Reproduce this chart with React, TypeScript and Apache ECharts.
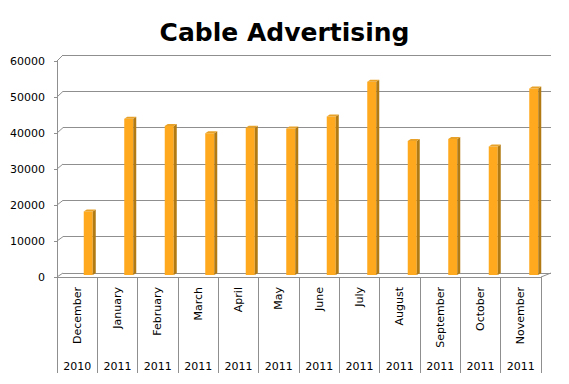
import React, { useEffect, useRef } from "react";
import * as echarts from "echarts";

const months = ["December", "January", "February", "March", "April", "May", "June", "July", "August", "September", "October", "November"];
const years = ["2010", "2011", "2011", "2011", "2011", "2011", "2011", "2011", "2011", "2011", "2011", "2011"];
const values = [17500, 43000, 41000, 39000, 40500, 40300, 43600, 53200, 36900, 37400, 35400, 51300];
const yTicks = [0, 10000, 20000, 30000, 40000, 50000, 60000];

const GRID_COLOR = "#8f8f8f";

export default function App() {
  const ref = useRef<HTMLDivElement>(null);
  useEffect(() => {
    const chart = echarts.init(ref.current!, null, { renderer: "svg" });
    const font = "DejaVu Sans";
    chart.setOption({
      animation: false,
      backgroundColor: "#ffffff",
      title: {
        text: "Cable Advertising",
        left: "center",
        top: 15,
        textStyle: { fontFamily: font, fontSize: 25, fontWeight: "bold", color: "#000" },
      },
      grid: [
        { left: 63, right: 18, top: 55, bottom: 111 },
        { left: 68, right: 15, top: 57, bottom: 109 },
        { left: 57, right: 28, top: 61, bottom: 107 },
      ],
      xAxis: [
        { gridIndex: 0, type: "category", data: months, show: false },
        { gridIndex: 1, type: "category", data: months, show: false },
        {
          gridIndex: 2,
          type: "category",
          data: months,
          axisLine: { show: true, lineStyle: { color: GRID_COLOR, width: 1 } },
          axisTick: { show: true, length: 96, interval: 0, lineStyle: { color: GRID_COLOR, width: 1 } },
          axisLabel: { interval: 0, rotate: 90, margin: 10, fontFamily: font, fontSize: 11, color: "#000" },
        },
        {
          gridIndex: 2,
          type: "category",
          position: "bottom",
          data: years,
          axisLine: { show: false },
          axisTick: { show: false },
          axisLabel: { interval: 0, margin: 84, fontFamily: font, fontSize: 11, color: "#000" },
        },
      ],
      yAxis: [
        {
          gridIndex: 0,
          type: "value",
          min: 0,
          max: 60000,
          interval: 10000,
          axisLine: { show: false },
          axisTick: { show: false },
          axisLabel: { show: false },
          splitLine: { show: true, lineStyle: { color: GRID_COLOR, width: 1 } },
        },
        { gridIndex: 1, type: "value", min: 0, max: 60000, interval: 10000, show: false, splitLine: { show: false } },
        {
          gridIndex: 2,
          type: "value",
          min: 0,
          max: 60000,
          interval: 10000,
          axisLine: { show: true, lineStyle: { color: GRID_COLOR, width: 1 } },
          axisTick: { show: true, length: 3, lineStyle: { color: GRID_COLOR } },
          axisLabel: {
            margin: 12,
            fontFamily: font,
            fontSize: 11,
            color: "#000",
            formatter: (v: number) => String(v),
          },
          splitLine: { show: false },
        },
      ],
      series: [
        {
          type: "custom",
          xAxisIndex: 1,
          yAxisIndex: 1,
          data: values.map((v, i) => [i, v]),
          encode: { x: 0, y: 1 },
          renderItem: (params: any, api: any) => {
            const top = api.coord([api.value(0), api.value(1)]);
            const base = api.coord([api.value(0), 0]);
            const w = 9;
            const d = 3;
            const dy = 2;
            const x0 = top[0] - w / 2;
            const x1 = top[0] + w / 2;
            return {
              type: "group",
              children: [
                {
                  type: "rect",
                  shape: { x: x0, y: top[1], width: w, height: base[1] - top[1] },
                  style: { fill: "#FFAA1E" },
                },
                {
                  type: "polygon",
                  shape: { points: [[x1, top[1]], [x1 + d, top[1] - dy], [x1 + d, base[1] - dy], [x1, base[1]]] },
                  style: { fill: "#B27A12" },
                },
                {
                  type: "polygon",
                  shape: { points: [[x0, top[1]], [x0 + d, top[1] - dy], [x1 + d, top[1] - dy], [x1, top[1]]] },
                  style: { fill: "#E8A22A" },
                },
              ],
            };
          },
        },
      ],
    });

    const lines: any[] = [];
    yTicks.forEach((v) => {
      const yf = chart.convertToPixel({ yAxisIndex: 2 } as any, v) as number;
      const yb = chart.convertToPixel({ yAxisIndex: 0 } as any, v) as number;
      lines.push({
        type: "line",
        shape: { x1: 57, y1: yf, x2: 63, y2: yb },
        style: { stroke: GRID_COLOR, lineWidth: 1 },
        silent: true,
      });
    });
    const yf0 = chart.convertToPixel({ yAxisIndex: 2 } as any, 0) as number;
    const yb0 = chart.convertToPixel({ yAxisIndex: 0 } as any, 0) as number;
    lines.push({
      type: "line",
      shape: { x1: 541, y1: yf0, x2: 551, y2: yb0 },
      style: { stroke: GRID_COLOR, lineWidth: 1 },
      silent: true,
    });
    chart.setOption({ graphic: lines });

    return () => chart.dispose();
  }, []);
  return <div ref={ref} style={{ position: "absolute", left: 0, top: 0, width: 569, height: 384 }} />;
}
